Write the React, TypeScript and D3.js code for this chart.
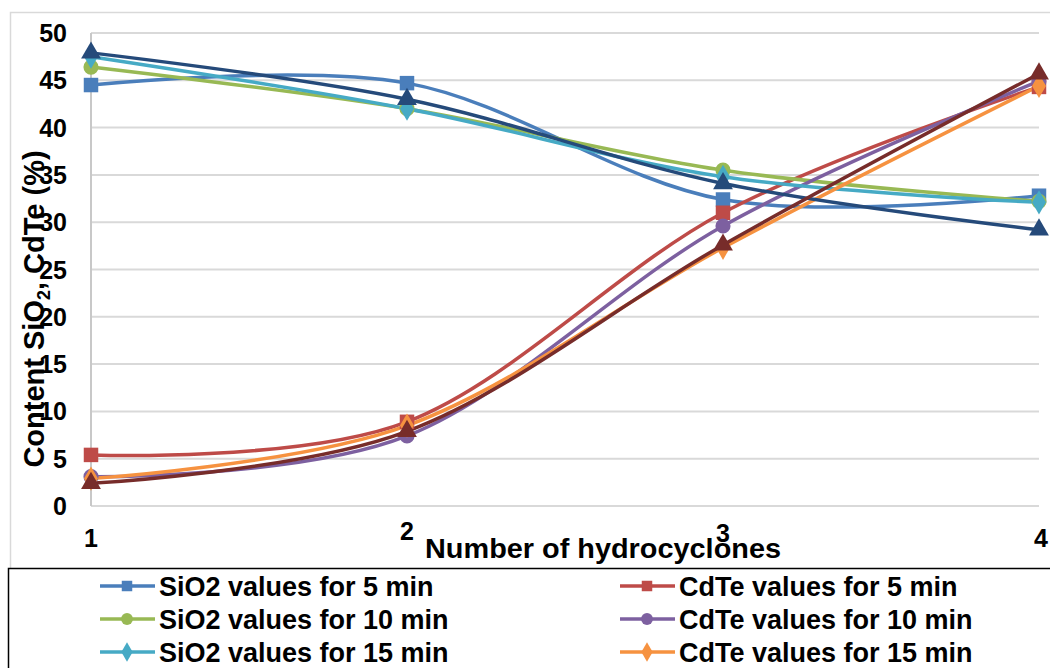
import React, { useEffect, useRef } from "react";
import * as d3 from "d3";

const W = 1050, H = 668;

const cycles = [1, 2, 3, 4];
const yTicks = [0, 5, 10, 15, 20, 25, 30, 35, 40, 45, 50];

const sio2_5 = [44.5, 44.7, 32.4, 32.8];
const sio2_10 = [46.4, 42.0, 35.5, 32.2];
const sio2_15 = [47.5, 42.0, 34.8, 32.1];
const sio2_20 = [47.9, 43.0, 34.1, 29.2];
const cdte_5 = [5.4, 8.9, 31.0, 44.3];
const cdte_10 = [3.1, 7.4, 29.6, 44.9];
const cdte_15 = [2.9, 8.5, 27.3, 44.4];
const cdte_20 = [2.4, 7.9, 27.6, 45.7];

const series = [
  { name: "SiO2 values for 5 min", values: sio2_5, color: "#4A7EBB", shape: "square" },
  { name: "CdTe values for 5 min", values: cdte_5, color: "#BE4B48", shape: "square" },
  { name: "SiO2 values for 10 min", values: sio2_10, color: "#98B954", shape: "circle" },
  { name: "CdTe values for 10 min", values: cdte_10, color: "#7D60A0", shape: "circle" },
  { name: "SiO2 values for 15 min", values: sio2_15, color: "#46AAC5", shape: "diamond" },
  { name: "CdTe values for 15 min", values: cdte_15, color: "#F69240", shape: "diamond" },
  { name: "SiO2 values for 20 min", values: sio2_20, color: "#254A7A", shape: "triangle" },
  { name: "CdTe values for 20 min", values: cdte_20, color: "#772C2A", shape: "triangle" },
];

const symbolOf = (s: string) =>
  s === "square" ? d3.symbolSquare : s === "circle" ? d3.symbolCircle : s === "diamond" ? d3.symbolDiamond : d3.symbolTriangle;

export default function App() {
  const ref = useRef<SVGSVGElement>(null);

  useEffect(() => {
    const svg = d3.select(ref.current);
    svg.selectAll("*").remove();
    const font = "'Liberation Sans', Arial, sans-serif";

    const x = d3.scaleLinear().domain([1, 4]).range([91, 1039]);
    const y = d3.scaleLinear().domain([0, 50]).range([506, 33]);

    svg.append("rect").attr("width", W).attr("height", H).attr("fill", "#fff");
    // outer chart border
    svg.append("rect").attr("x", 10.5).attr("y", 12.5).attr("width", W + 20).attr("height", H + 20)
      .attr("fill", "none").attr("stroke", "#d9d9d9").attr("stroke-width", 1.5);

    // gridlines
    svg.append("g").selectAll("line").data(yTicks).join("line")
      .attr("x1", x(1)).attr("x2", x(4))
      .attr("y1", d => y(d)).attr("y2", d => y(d))
      .attr("stroke", "#d9d9d9").attr("stroke-width", 2);
    svg.append("line").attr("x1", x(1)).attr("x2", x(1)).attr("y1", y(50)).attr("y2", y(0))
      .attr("stroke", "#c8c8c8").attr("stroke-width", 2);

    // y tick labels
    svg.append("g").selectAll("text").data(yTicks).join("text")
      .attr("x", 67).attr("y", d => y(d)).attr("dy", "0.36em")
      .attr("text-anchor", "end").attr("font-family", font).attr("font-weight", "bold")
      .attr("font-size", 25).text(d => d);

    // x tick labels
    const tickBase = [547, 540, 542, 547];
    svg.append("g").selectAll("text").data(cycles).join("text")
      .attr("x", d => x(d) + (d === 4 ? 2 : 0)).attr("y", (d, i) => tickBase[i])
      .attr("text-anchor", "middle").attr("font-family", font).attr("font-weight", "bold")
      .attr("font-size", 25).text(d => d);

    // axis titles
    svg.append("text").attr("x", 425).attr("y", 558)
      .attr("font-family", font).attr("font-weight", "bold").attr("font-size", 27)
      .attr("textLength", 356).attr("lengthAdjust", "spacingAndGlyphs")
      .text("Number of hydrocyclones");

    const yt = svg.append("text").attr("transform", "translate(44,309) rotate(-90)")
      .attr("text-anchor", "middle").attr("font-family", font).attr("font-weight", "bold")
      .attr("font-size", 29);
    yt.append("tspan").text("Content SiO");
    yt.append("tspan").attr("font-size", 18).attr("dy", 6).text("2");
    yt.append("tspan").attr("dy", -6).text(", CdTe (%)");

    const line = d3.line<number>()
      .x((_, i) => x(cycles[i]))
      .y(d => y(d))
      .curve(d3.curveCatmullRom.alpha(0));

    const g = svg.append("g");
    series.forEach(s => {
      g.append("path").attr("d", line(s.values)).attr("fill", "none")
        .attr("stroke", s.color).attr("stroke-width", 3.5).attr("stroke-linejoin", "round");
    });
    series.forEach(s => {
      const size = s.shape === "diamond" ? 170 : s.shape === "triangle" ? 170 : s.shape === "circle" ? 180 : 210;
      g.append("g").selectAll("path").data(s.values).join("path")
        .attr("transform", (d, i) => `translate(${x(cycles[i])},${y(d)})`)
        .attr("d", d3.symbol().type(symbolOf(s.shape)).size(size)())
        .attr("fill", s.color);
    });

    // legend
    svg.append("rect").attr("x", 8.5).attr("y", 568.5).attr("width", W).attr("height", 200)
      .attr("fill", "#fff").attr("stroke", "#000").attr("stroke-width", 1.5);
    const rows = [586, 619, 652, 685];
    series.forEach((s, i) => {
      const col = i % 2, row = Math.floor(i / 2);
      const lx = col === 0 ? 100 : 620;
      const ly = rows[row];
      const lg = svg.append("g").attr("transform", `translate(${lx},${ly})`);
      lg.append("line").attr("x1", 0).attr("x2", 55).attr("stroke", s.color).attr("stroke-width", 3.5);
      lg.append("path").attr("transform", "translate(27,0)")
        .attr("d", d3.symbol().type(symbolOf(s.shape)).size(110)()).attr("fill", s.color);
      lg.append("text").attr("x", 59).attr("dy", "0.36em").attr("font-family", font)
        .attr("font-weight", "bold").attr("font-size", 27).attr("fill", "#000").text(s.name);
    });
  }, []);

  return (
    <svg ref={ref} width={W} height={H}
      style={{ position: "absolute", left: 0, top: 0, display: "block" }} />
  );
}
